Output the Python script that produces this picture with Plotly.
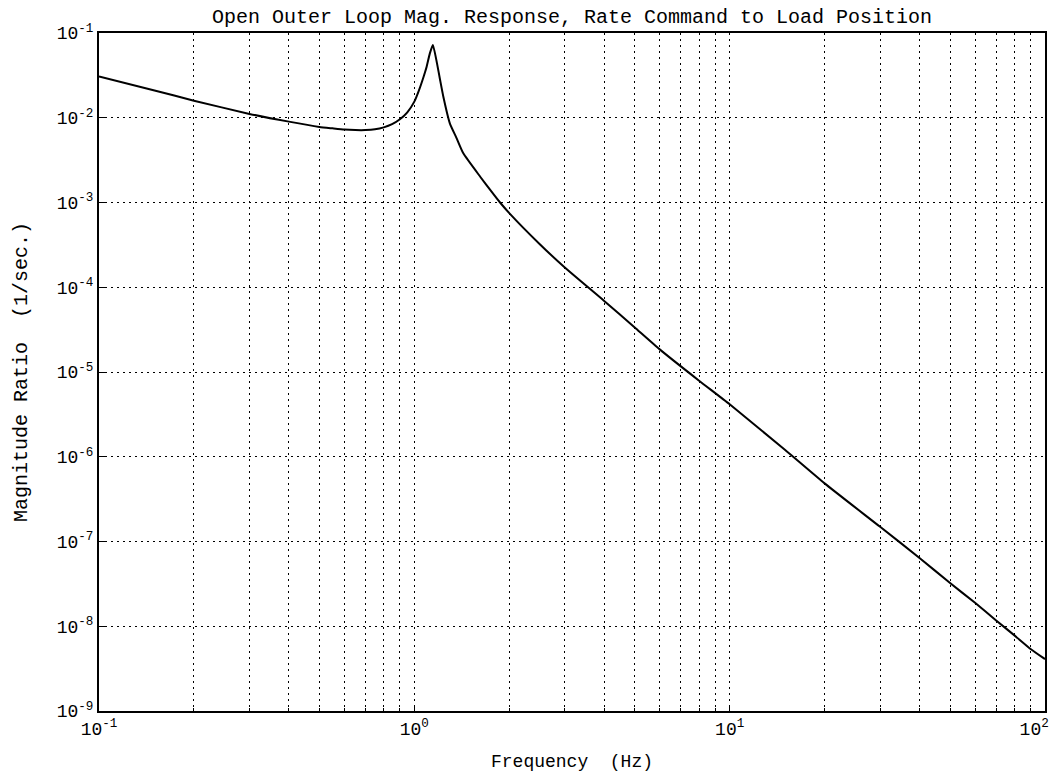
import plotly.graph_objects as go

# Frequency (Hz) and magnitude ratio (1/sec.)
freq_hz = [0.1, 0.15, 0.2, 0.3, 0.4, 0.5, 0.55, 0.6, 0.65, 0.7, 0.75, 0.8, 0.85, 0.9, 0.95,
           1.0, 1.035, 1.07, 1.094, 1.12, 1.145, 1.18, 1.207, 1.236, 1.296, 1.36, 1.43,
           1.62, 1.75, 1.87, 2.0, 2.5, 3.0, 4.0, 5.0, 6.0, 8.0, 10.0, 15.0, 20.0, 30.0,
           40.0, 50.0, 60.0, 70.0, 80.0, 90.0, 100.0]
magnitude = [0.0306, 0.021, 0.0159, 0.0111, 0.0090, 0.0078, 0.0075, 0.00725, 0.00715,
             0.00715, 0.0073, 0.0077, 0.0084, 0.0096, 0.0116, 0.0155, 0.0212, 0.0305,
             0.040, 0.0575, 0.0722, 0.0438, 0.0279, 0.0177, 0.0086, 0.0058, 0.0038,
             0.0020, 0.00137, 0.0010, 7.5e-4, 3.22e-4, 1.71e-4, 6.9e-5, 3.35e-5, 1.85e-5,
             7.9e-6, 4.16e-6, 1.2e-6, 4.85e-7, 1.49e-7, 6.4e-8, 3.23e-8, 1.89e-8, 1.17e-8,
             7.8e-9, 5.4e-9, 4.1e-9]

x_tickvals = [0.1, 1, 10, 100]
x_ticktext = ["10<sup>-1</sup>", "10<sup>0</sup>", "10<sup>1</sup>",
              "10<sup>2</sup>\u00a0\u00a0"]
y_tickvals = [1e-9, 1e-8, 1e-7, 1e-6, 1e-5, 1e-4, 1e-3, 1e-2, 1e-1]
y_ticktext = ["10<sup>-9</sup>", "10<sup>-8</sup>", "10<sup>-7</sup>", "10<sup>-6</sup>",
              "10<sup>-5</sup>", "10<sup>-4</sup>", "10<sup>-3</sup>", "10<sup>-2</sup>",
              "10<sup>-1</sup>"]

title_text = "Open Outer Loop Mag. Response, Rate Command to Load Position"
x_title = "Frequency  (Hz)"
y_title = "Magnitude Ratio  (1/sec.)"

FONT = "Liberation Mono, DejaVu Sans Mono, monospace"

fig = go.Figure()
fig.add_trace(go.Scatter(
    x=freq_hz, y=magnitude, mode="lines",
    line=dict(color="black", width=2, shape="spline", smoothing=0.5),
    showlegend=False, hoverinfo="skip",
))

grid_dash = "2px,4px"

fig.update_layout(
    width=1056, height=779,
    margin=dict(l=99, r=11, t=33, b=68),
    paper_bgcolor="white", plot_bgcolor="white",
    font=dict(family=FONT, color="black", size=16),
    title=dict(text=title_text, x=0.5, xref="paper", xanchor="center",
               y=1 - 16 / 779, yref="container", yanchor="middle",
               font=dict(family=FONT, size=20, color="black")),
)

fig.update_xaxes(
    type="log", range=[-1, 2], automargin=False,
    tickvals=x_tickvals, ticktext=x_ticktext,
    tickfont=dict(size=18), ticks="inside", ticklen=5, tickcolor="black",
    ticklabeloverflow="allow",
    showline=True, linecolor="black", linewidth=2, mirror=True,
    showgrid=True, gridcolor="black", gridwidth=1, griddash=grid_dash,
    minor=dict(dtick="D1", showgrid=True, gridcolor="black", gridwidth=1,
               griddash=grid_dash, ticks="inside", ticklen=3, tickcolor="black"),
    title=dict(text=x_title, font=dict(size=18), standoff=16),
    zeroline=False,
)
fig.update_yaxes(
    type="log", range=[-9, -1], automargin=False,
    tickvals=y_tickvals, ticktext=y_ticktext,
    tickfont=dict(size=18), ticks="inside", ticklen=6, tickcolor="black",
    showline=True, linecolor="black", linewidth=2, mirror=True,
    showgrid=True, gridcolor="black", gridwidth=1, griddash=grid_dash,
    title=dict(text=y_title, font=dict(size=20), standoff=24),
    zeroline=False,
)

fig.write_html("out.html")
